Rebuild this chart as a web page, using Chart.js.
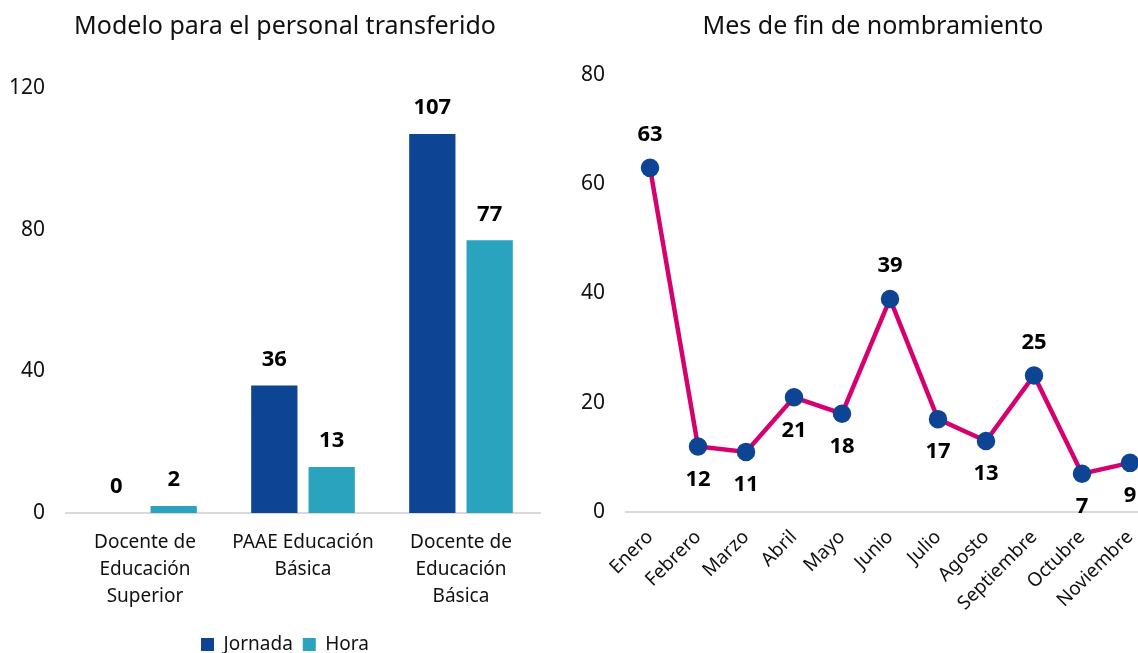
<!DOCTYPE html>
<html>
<head>
<meta charset="utf-8">
<script src="https://cdn.jsdelivr.net/npm/chart.js@4.4.0/dist/chart.umd.min.js"></script>
<style>
  html, body { margin: 0; padding: 0; background: #fff; overflow: hidden; }
  body { width: 1138px; height: 653px; position: relative; }
  #left { position: absolute; left: 0; top: 0; width: 570px; height: 664px; }
  #right { position: absolute; left: 560px; top: 0; width: 626px; height: 653px; }
</style>
</head>
<body>
<div id="left"><canvas id="barChart"></canvas></div>
<div id="right"><canvas id="lineChart"></canvas></div>
<script>
// datos del gráfico de barras
const puestos = [['Docente de', 'Educación', 'Superior'], ['PAAE Educación', 'Básica'], ['Docente de', 'Educación', 'Básica']];
const jornada = [0, 36, 107];
const hora = [2, 13, 77];
const barTicks = [0, 40, 80, 120];

// datos del gráfico de líneas
const meses = ['Enero', 'Febrero', 'Marzo', 'Abril', 'Mayo', 'Junio', 'Julio', 'Agosto', 'Septiembre', 'Octubre', 'Noviembre'];
const finNombramiento = [63, 12, 11, 21, 18, 39, 17, 13, 25, 7, 9];
const lineTicks = [0, 20, 40, 60, 80];

const FONT = '"Noto Sans", "Open Sans", sans-serif';
Chart.defaults.font.family = FONT;
Chart.defaults.color = '#111';

// etiquetas de valor encima / debajo de cada marca
const valueLabels = {
    id: 'valueLabels',
    afterDatasetsDraw(chart, args, opts) {
        const ctx = chart.ctx;
        ctx.save();
        ctx.font = 'bold 22px ' + FONT;
        ctx.fillStyle = '#000';
        ctx.textAlign = 'center';
        ctx.textBaseline = 'middle';
        chart.data.datasets.forEach((ds, i) => {
            chart.getDatasetMeta(i).data.forEach((el, j) => {
                const above = opts.above ? opts.above[j] : true;
                const y = above ? el.y - opts.offset : el.y + opts.offset;
                ctx.fillText(ds.data[j], el.x, y);
            });
        });
        ctx.restore();
    }
};

// desplaza título y leyenda horizontalmente después del layout
const blockShift = {
    id: 'blockShift',
    afterLayout(chart, args, opts) {
        [chart.titleBlock, chart.legend].forEach(box => {
            if (box) {
                box.left += opts.dx;
                box.right += opts.dx;
            }
        });
    }
};

function fixWidth(w) { return scale => { scale.width = w; }; }
function fixHeight(h) { return scale => { scale.height = h; }; }

new Chart(document.getElementById('barChart'), {
    type: 'bar',
    data: {
        labels: puestos,
        datasets: [
            { label: 'Jornada', data: jornada, backgroundColor: '#0D4493' },
            { label: 'Hora', data: hora, backgroundColor: '#2AA3BF' }
        ]
    },
    options: {
        responsive: true,
        maintainAspectRatio: false,
        animation: false,
        events: [],
        categoryPercentage: 0.726,
        barPercentage: 0.807,
        layout: { padding: { right: 30 } },
        plugins: {
            title: {
                display: true,
                text: 'Modelo para el personal transferido',
                font: { size: 25, weight: 'normal' },
                color: '#111',
                padding: { top: 12, bottom: 46 }
            },
            blockShift: { dx: 15 },
            legend: {
                position: 'bottom',
                labels: { boxWidth: 13, boxHeight: 13, font: { size: 19 }, color: '#111', padding: 10 }
            },
            tooltip: { enabled: false },
            valueLabels: { offset: 26 }
        },
        scales: {
            x: {
                grid: { display: false },
                border: { display: true, color: '#d9d9d9', width: 2 },
                ticks: { font: { size: 19, lineHeight: 1.42 }, color: '#111', maxRotation: 0, autoSkip: false, padding: 8 },
                afterFit: fixHeight(112)
            },
            y: {
                min: 0,
                max: 120,
                afterBuildTicks: scale => { scale.ticks = barTicks.map(v => ({ value: v })); },
                grid: { display: false, drawTicks: false },
                border: { display: false },
                ticks: { font: { size: 21 }, color: '#111', padding: 21 },
                afterFit: fixWidth(66)
            }
        }
    },
    plugins: [valueLabels, blockShift]
});

new Chart(document.getElementById('lineChart'), {
    type: 'line',
    data: {
        labels: meses,
        datasets: [{
            label: 'Fin de nombramiento',
            data: finNombramiento,
            borderColor: '#D6006E',
            borderWidth: 4.5,
            pointBackgroundColor: '#0D4493',
            pointBorderColor: '#0D4493',
            pointRadius: 7,
            tension: 0
        }]
    },
    options: {
        responsive: true,
        maintainAspectRatio: false,
        animation: false,
        events: [],
        layout: { padding: { right: 32 } },
        plugins: {
            title: {
                display: true,
                text: 'Mes de fin de nombramiento',
                font: { size: 25, weight: 'normal' },
                color: '#111',
                padding: { top: 12, bottom: 33 }
            },
            blockShift: { dx: 16 },
            legend: { display: false },
            tooltip: { enabled: false },
            valueLabels: {
                offset: 33,
                above: [true, false, false, false, false, true, false, false, true, false, false]
            }
        },
        scales: {
            x: {
                offset: true,
                grid: { display: false },
                border: { display: true, color: '#d9d9d9', width: 2 },
                ticks: { font: { size: 19 }, color: '#111', minRotation: 45, maxRotation: 45, autoSkip: false, padding: 6 },
                afterFit: fixHeight(141)
            },
            y: {
                min: 0,
                max: 80,
                afterBuildTicks: scale => { scale.ticks = lineTicks.map(v => ({ value: v })); },
                grid: { display: false, drawTicks: false },
                border: { display: false },
                ticks: { font: { size: 21 }, color: '#111', padding: 21 },
                afterFit: fixWidth(66)
            }
        }
    },
    plugins: [valueLabels, blockShift]
});
</script>
</body>
</html>
